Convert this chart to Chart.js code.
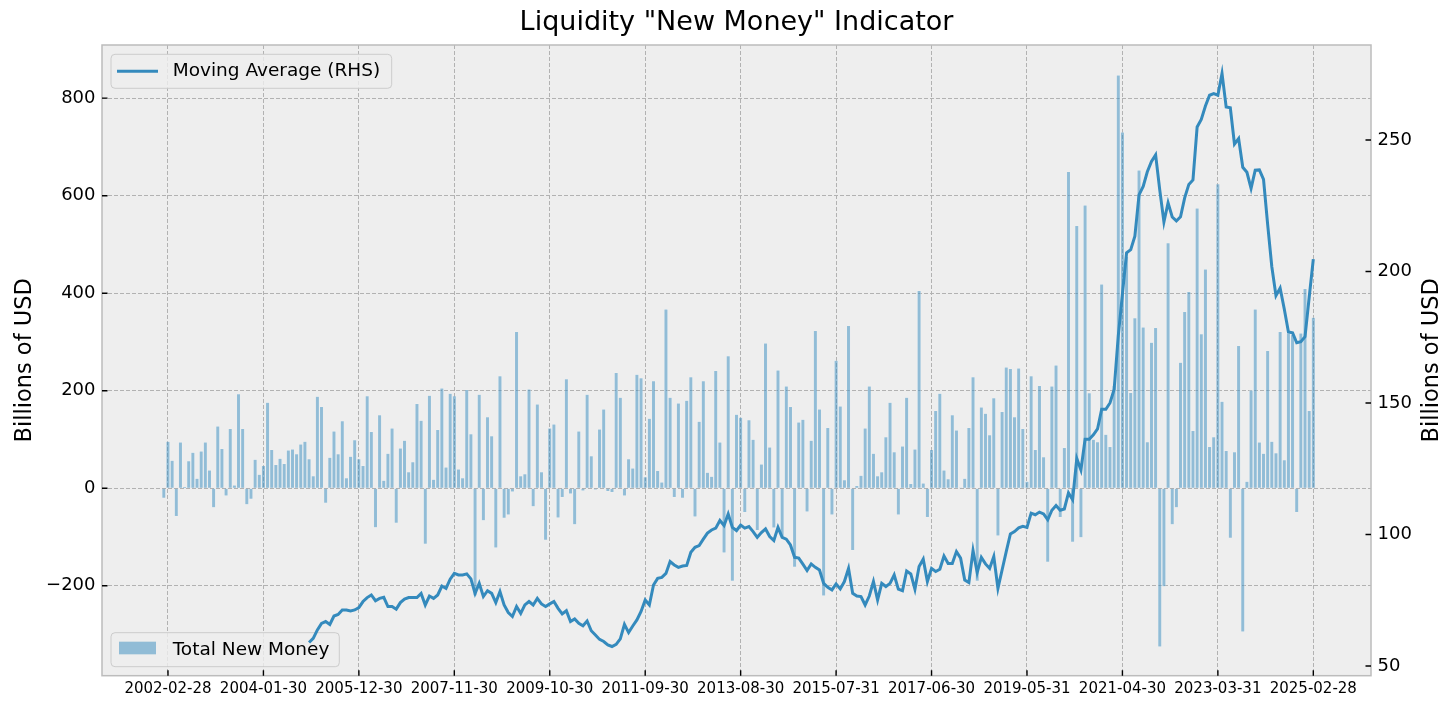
<!DOCTYPE html>
<html>
<head>
<meta charset="utf-8">
<title>Liquidity "New Money" Indicator</title>
<script src="https://cdn.jsdelivr.net/npm/chart.js@4.4.1/dist/chart.umd.min.js"></script>
<style>
  html, body { margin: 0; padding: 0; background: #ffffff; }
  #wrap { width: 1456px; height: 711px; }
</style>
</head>
<body>
<div id="wrap"><canvas id="liquidityChart" width="1456" height="711"></canvas></div>
<script>
// monthly categories, 2002-01 .. 2025-02
const firstMonth = '2002-01';
const lastMonth = '2025-02';
const months = [];
for (let y = 2002, m = 1; ; m++) {
  if (m > 12) { m = 1; y++; }
  const key = y + '-' + String(m).padStart(2, '0');
  months.push(key);
  if (key === lastMonth) break;
}

// labels shown on the date axis
const tickLabels = [
  '2002-02-28', '2004-01-30', '2005-12-30', '2007-11-30', '2009-10-30',
  '2011-09-30', '2013-08-30', '2015-07-31', '2017-06-30', '2019-05-31',
  '2021-04-30', '2023-03-31', '2025-02-28'
];
const leftTicks = [-200, 0, 200, 400, 600, 800];
const rightTicks = [50, 100, 150, 200, 250];

// Total New Money, billions of USD, one value per month
const newMoney = [
  -20, 96, 57, -57, 94, 2, 56, 73, 20, 76, 94, 37, -39, 127, 81, -15, 122, 6, 193, 122,
  -33, -22, 59, 28, 46, 176, 79, 48, 61, 50, 78, 80, 70, 90, 96, 60, 25, 188, 167, -30,
  63, 117, 70, 138, 21, 65, 99, 60, 46, 189, 116, -80, 150, 16, 71, 123, -71, 82, 98, 33,
  54, 173, 139, -114, 190, 18, 120, 205, 43, 194, 189, 39, 21, 202, 111, -220, 192, -66, 146, 107,
  -122, 230, -61, -54, -7, 321, 25, 29, 203, -37, 172, 33, -106, 123, 131, -60, -18, 224, -11, -74,
  117, -5, 192, 66, -3, 121, 162, -6, -8, 237, 186, -15, 60, 41, 233, 226, 23, 143, 220, 36,
  12, 367, 186, -18, 174, -20, 180, 228, -58, 137, 220, 32, 24, 241, 94, -132, 271, -190, 151, 145,
  -49, 140, 100, -86, 49, 297, 84, -81, 242, -99, 209, 167, -161, 135, 141, -48, 98, 323, 162, -220,
  124, -54, 262, 168, 17, 333, -127, 5, 26, 123, 209, 71, 25, 33, 105, 176, 74, -54, 86, 186,
  9, 80, 405, 10, -59, 79, 159, 194, 37, 19, 150, 119, 1, 20, 124, 228, -190, 166, 153, 109,
  185, -97, 157, 248, 245, 146, 246, 122, 14, 230, 79, 210, 64, -151, 209, 252, -59, 83, 649, -110,
  538, -101, 580, 195, 100, 95, 418, 110, 85, 210, 847, 730, 475, 196, 349, 652, 330, 95, 299, 329,
  -325, -201, 503, -74, -39, 258, 362, 403, 118, 574, 316, 449, 85, 105, 624, 178, 77, -102, 74, 292,
  -294, 14, 201, 367, 94, 71, 282, 96, 72, 321, 58, 318, 315, -49, 318, 409, 159, 350
];

// Moving Average (RHS), starts at 2004-12
const maStartMonth = '2004-12';
const movingAverage = [
  58.9, 60.5, 63.7, 66.2, 66.9, 65.8, 69.0, 69.6, 71.3, 71.3, 70.9, 71.3, 72.2, 74.5, 76.0,
  77.0, 74.8, 75.7, 76.1, 72.6, 72.6, 71.6, 74.1, 75.4, 76.0, 76.0, 76.0, 77.6, 73.2, 76.6,
  75.7, 77.0, 80.4, 79.5, 83.0, 85.2, 84.6, 84.6, 85.0, 83.1, 77.6, 81.4, 76.4, 78.6, 77.6,
  74.1, 78.3, 73.2, 70.3, 68.8, 72.6, 70.0, 73.2, 74.5, 73.2, 75.7, 73.6, 72.6, 73.6, 74.5,
  71.9, 69.8, 71.0, 66.9, 67.9, 66.2, 65.3, 67.1, 63.4, 61.8, 60.1, 59.3, 58.0, 57.4, 58.2,
  60.3, 65.8, 62.7, 65.2, 67.5, 70.7, 75.1, 73.2, 80.8, 83.3, 83.7, 85.2, 89.7, 88.4, 87.5,
  88.0, 88.2, 93.2, 95.1, 95.8, 98.2, 100.5, 101.7, 102.4, 105.3, 103.4, 107.8, 102.7, 101.5, 103.6,
  102.4, 103.0, 101.1, 98.9, 100.7, 102.1, 99.2, 97.7, 102.7, 98.9, 98.2, 96.0, 91.3, 91.0, 88.7,
  86.3, 88.8, 87.5, 86.5, 81.4, 79.9, 78.9, 81.2, 79.3, 82.1, 87.1, 77.6, 76.6, 76.4, 73.2,
  76.6, 82.1, 75.1, 81.4, 80.2, 81.4, 84.6, 79.2, 78.6, 86.1, 85.0, 79.2, 87.8, 90.6, 82.1,
  87.1, 85.9, 86.8, 91.8, 89.0, 89.0, 93.5, 91.0, 82.7, 81.7, 93.9, 85.5, 91.3, 88.8, 87.1,
  91.6, 79.5, 86.5, 93.5, 100.2, 101.1, 102.5, 103.1, 102.7, 108.1, 107.5, 108.5, 107.8, 105.6, 109.2,
  111.0, 109.2, 109.7, 115.8, 113.2, 128.9, 124.5, 136.2, 136.2, 137.9, 140.1, 147.6, 147.6, 150.0, 155.1,
  175.5, 191.5, 207.1, 208.3, 213.4, 229.1, 232.3, 237.9, 241.8, 244.3, 230.9, 218.8, 226.1, 220.7, 219.2,
  220.8, 228.0, 233.1, 234.8, 254.9, 257.8, 262.9, 267.0, 267.6, 267.0, 275.3, 262.5, 262.2, 248.4, 250.5,
  239.6, 237.7, 231.6, 238.5, 238.6, 235.0, 217.8, 201.8, 190.8, 193.7, 185.7, 177.0, 176.7, 172.9, 173.3,
  175.2, 190.1, 204.7
];

const FONT = "'DejaVu Sans', 'Liberation Sans', sans-serif";
const LINE_COLOR = '#348ABD';
const BAR_COLOR = 'rgba(52, 138, 189, 0.5)';
const GRID_COLOR = '#b2b2b2';

const maStart = months.indexOf(maStartMonth);
const barPoints = newMoney.map((v, i) => ({ x: i, y: v }));
const maPoints = movingAverage.map((v, i) => ({ x: maStart + i, y: v }));
const xTickValues = tickLabels.map(l => months.indexOf(l.slice(0, 7)));

function fmtTick(v) {
  return v < 0 ? '\u2212' + Math.abs(v) : String(v);
}

function legendFrame(ctx, x, y, w, h) {
  ctx.beginPath();
  ctx.roundRect(x, y, w, h, 4);
  ctx.fillStyle = 'rgba(238, 238, 238, 0.8)';
  ctx.fill();
  ctx.strokeStyle = '#cccccc';
  ctx.lineWidth = 1;
  ctx.stroke();
}

// background, title, frame, inward ticks, right axis label and the two legends
const decorPlugin = {
  id: 'decor',
  beforeDraw(chart) {
    const { ctx, chartArea: a } = chart;
    ctx.save();
    ctx.fillStyle = '#ffffff';
    ctx.fillRect(0, 0, chart.width, chart.height);
    ctx.fillStyle = '#eeeeee';
    ctx.fillRect(a.left, a.top, a.right - a.left, a.bottom - a.top);
    ctx.fillStyle = '#000000';
    ctx.font = '27px ' + FONT;
    ctx.textAlign = 'center';
    ctx.textBaseline = 'middle';
    ctx.fillText('Liquidity "New Money" Indicator', (a.left + a.right) / 2, 23);
    // RHS label reads bottom-to-top like the left one
    ctx.font = '22.5px ' + FONT;
    ctx.translate(1432, (a.top + a.bottom) / 2);
    ctx.rotate(-Math.PI / 2);
    ctx.fillText('Billions of USD', 0, 0);
    ctx.restore();
  },
  beforeDatasetDraw(chart, args) {
    if (args.index !== 1) return;
    // bar legend sits under the RHS line
    const ctx = chart.ctx;
    ctx.save();
    legendFrame(ctx, 111, 632.7, 228.3, 34);
    ctx.fillStyle = BAR_COLOR;
    ctx.fillRect(119, 641.7, 37, 12.6);
    ctx.fillStyle = '#000000';
    ctx.font = '18.5px ' + FONT;
    ctx.textAlign = 'left';
    ctx.textBaseline = 'middle';
    ctx.fillText('Total New Money', 172.7, 650);
    ctx.restore();
  },
  afterDraw(chart) {
    const { ctx, chartArea: a } = chart;
    const sx = chart.scales.x, sy = chart.scales.y, sy2 = chart.scales.y2;
    ctx.save();
    ctx.strokeStyle = '#bcbcbc';
    ctx.lineWidth = 1.5;
    ctx.strokeRect(a.left, a.top, a.right - a.left, a.bottom - a.top);

    ctx.strokeStyle = '#000000';
    ctx.lineWidth = 1.4;
    ctx.beginPath();
    xTickValues.forEach(v => {
      const px = sx.getPixelForValue(v);
      ctx.moveTo(px, a.bottom); ctx.lineTo(px, a.bottom - 5.5);
    });
    leftTicks.forEach(v => {
      const py = sy.getPixelForValue(v);
      ctx.moveTo(a.left, py); ctx.lineTo(a.left + 5.5, py);
    });
    rightTicks.forEach(v => {
      const py = sy2.getPixelForValue(v);
      ctx.moveTo(a.right, py); ctx.lineTo(a.right - 5.5, py);
    });
    ctx.stroke();

    legendFrame(ctx, 111, 54.3, 280.7, 34);
    ctx.strokeStyle = LINE_COLOR;
    ctx.lineWidth = 3;
    ctx.beginPath();
    ctx.moveTo(117, 71.3); ctx.lineTo(158, 71.3);
    ctx.stroke();
    ctx.fillStyle = '#000000';
    ctx.font = '18.5px ' + FONT;
    ctx.textAlign = 'left';
    ctx.textBaseline = 'middle';
    ctx.fillText('Moving Average (RHS)', 172.7, 71.5);
    ctx.restore();
  }
};

const gridOpts = { color: GRID_COLOR, lineWidth: 1, drawTicks: false, offset: false };

new Chart(document.getElementById('liquidityChart'), {
  type: 'bar',
  data: {
    datasets: [
      {
        type: 'bar',
        label: 'Total New Money',
        data: barPoints,
        yAxisID: 'y',
        backgroundColor: BAR_COLOR,
        borderColor: 'rgba(255, 255, 255, 0.4)',
        borderWidth: 0.5,
        barThickness: 3.4,
        order: 2
      },
      {
        type: 'line',
        label: 'Moving Average (RHS)',
        data: maPoints,
        yAxisID: 'y2',
        borderColor: LINE_COLOR,
        borderWidth: 3,
        pointRadius: 0,
        tension: 0,
        fill: false,
        order: 1
      }
    ]
  },
  options: {
    responsive: false,
    animation: false,
    events: [],
    layout: { padding: { top: 45, left: 0, right: 0, bottom: 0 } },
    plugins: { legend: { display: false }, tooltip: { enabled: false }, title: { display: false } },
    scales: {
      x: {
        type: 'linear',
        position: 'bottom',
        min: -14.9,
        max: 290.9,
        offset: false,
        afterFit(s) { s.height = 35.3; },
        afterBuildTicks(s) { s.ticks = xTickValues.map(v => ({ value: v })); },
        grid: gridOpts,
        border: { display: false, dash: [4, 2] },
        ticks: {
          autoSkip: false,
          maxRotation: 0,
          padding: 4,
          color: '#000000',
          font: { family: FONT, size: 15 },
          callback: v => tickLabels[xTickValues.indexOf(v)] || ''
        }
      },
      y: {
        type: 'linear',
        position: 'left',
        min: -384.3,
        max: 909,
        afterFit(s) { s.width = 102; },
        afterBuildTicks(s) { s.ticks = leftTicks.map(v => ({ value: v })); },
        grid: gridOpts,
        border: { display: false, dash: [4, 2] },
        ticks: { padding: 6.5, color: '#000000', font: { family: FONT, size: 18 }, callback: fmtTick },
        title: { display: true, text: 'Billions of USD', color: '#000000', font: { family: FONT, size: 22.5 }, padding: { top: 11.5, bottom: 0 } }
      },
      y2: {
        type: 'linear',
        position: 'right',
        min: 46.3,
        max: 286.1,
        afterFit(s) { s.width = 85; },
        afterBuildTicks(s) { s.ticks = rightTicks.map(v => ({ value: v })); },
        grid: { display: false, drawOnChartArea: false, drawTicks: false },
        border: { display: false },
        ticks: { padding: 6.5, color: '#000000', font: { family: FONT, size: 18 }, callback: fmtTick }
      }
    }
  },
  plugins: [decorPlugin]
});
</script>
</body>
</html>
